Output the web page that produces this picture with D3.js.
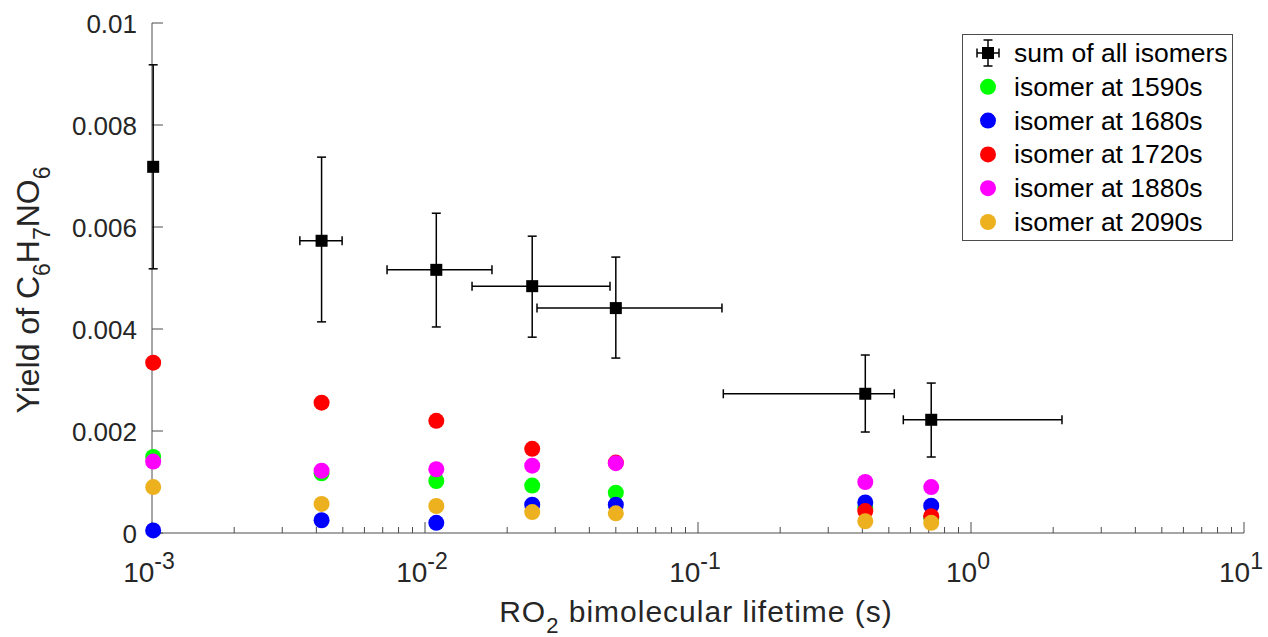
<!DOCTYPE html>
<html>
  <head>
    <script type="text/javascript" src="https://cdn.jsdelivr.net/npm/d3@7"></script>
    <style type="text/css">

html, body {
  margin: 0;
  background: #fff;
}

svg {
  display: block;
  font-family: "Liberation Sans", Arial, sans-serif;
}

    </style>
  </head>
  <body>
    <div id="chart"></div>
    <script type="text/javascript">

// lifetimes (s) of the 7 measurement points
var lifetime = [0.00101, 0.00418, 0.011, 0.0247, 0.05, 0.41, 0.715];
var lifetimeLo = [0.00101, 0.00348, 0.00726, 0.01487, 0.02572, 0.1238, 0.565];
var lifetimeHi = [0.00101, 0.00497, 0.01759, 0.04761, 0.1224, 0.5236, 2.154];

// sum of all isomers + error bars
var sumYield = [0.00718, 0.00573, 0.00516, 0.00484, 0.00441, 0.00273, 0.00222];
var sumLo = [0.00518, 0.00414, 0.00404, 0.00384, 0.00343, 0.00198, 0.00149];
var sumHi = [0.00918, 0.00737, 0.00627, 0.00582, 0.00541, 0.00349, 0.00294];

// single isomers
var iso1590 = [0.00149, 0.00117, 0.00102, 0.00093, 0.00079, 0.00050, 0.00030];
var iso1680 = [0.00005, 0.00025, 0.00020, 0.000555, 0.000555, 0.00060, 0.000535];
var iso1720 = [0.00334, 0.002555, 0.00220, 0.00165, 0.00138, 0.00043, 0.00033];
var iso1880 = [0.00140, 0.00122, 0.00125, 0.00132, 0.00137, 0.00100, 0.00090];
var iso2090 = [0.00090, 0.00057, 0.00053, 0.00041, 0.000385, 0.00023, 0.00020];

var isoNames = ["isomer at 1590s", "isomer at 1680s", "isomer at 1720s", "isomer at 1880s", "isomer at 2090s"];
var isoColors = ["#00ff00", "#0000ff", "#ff0000", "#ff00ff", "#edb120"];
var isoSeries = [iso1590, iso1680, iso1720, iso1880, iso2090];

var yTicks = [0, 0.002, 0.004, 0.006, 0.008, 0.01];
var yTickLabels = ["0", "0.002", "0.004", "0.006", "0.008", "0.01"];
var xTicks = [0.001, 0.01, 0.1, 1, 10];
var xTickExp = ["-3", "-2", "-1", "0", "1"];

var width = 1268, height = 637;
var margin = {left: 152, right: 24, top: 23, bottom: 104};
var axisColor = "#4d4d4d", textColor = "#262626";

var svg = d3.select("#chart").append("svg")
    .attr("width", width)
    .attr("height", height);

var x = d3.scaleLog()
    .domain([0.001, 10])
    .range([margin.left, width - margin.right]);

var y = d3.scaleLinear()
    .domain([0, 0.01])
    .range([height - margin.bottom, margin.top]);

var y0 = y(0);

// axes: only left and bottom, ticks pointing inwards
var axes = svg.append("g");

axes.append("line")
    .attr("x1", x(0.001)).attr("x2", x(10))
    .attr("y1", y0).attr("y2", y0)
    .attr("stroke", axisColor);

axes.append("line")
    .attr("x1", x(0.001)).attr("x2", x(0.001))
    .attr("y1", y0).attr("y2", y(0.01))
    .attr("stroke", axisColor);

// minor ticks 2..9 in every decade
var minor = [];
xTicks.slice(0, -1).forEach(function(d) {
  for (var k = 2; k < 10; k++) minor.push(d * k);
});

axes.selectAll(".minor")
    .data(minor)
  .enter().append("line")
    .attr("class", "minor")
    .attr("x1", x).attr("x2", x)
    .attr("y1", y0).attr("y2", y0 - 6)
    .attr("stroke", axisColor);

axes.selectAll(".xmajor")
    .data(xTicks)
  .enter().append("line")
    .attr("class", "xmajor")
    .attr("x1", x).attr("x2", x)
    .attr("y1", y0).attr("y2", y0 - 11)
    .attr("stroke", axisColor);

axes.selectAll(".ymajor")
    .data(yTicks)
  .enter().append("line")
    .attr("class", "ymajor")
    .attr("x1", x(0.001)).attr("x2", x(0.001) + 11)
    .attr("y1", y).attr("y2", y)
    .attr("stroke", axisColor);

// tick labels
axes.selectAll(".ylab")
    .data(yTicks)
  .enter().append("text")
    .attr("class", "ylab")
    .attr("x", x(0.001) - 15)
    .attr("y", function(d) { return y(d) + 10; })
    .attr("text-anchor", "end")
    .attr("font-size", 26)
    .attr("fill", textColor)
    .text(function(d, i) { return yTickLabels[i]; });

var xl = axes.selectAll(".xlab")
    .data(xTicks)
  .enter().append("text")
    .attr("class", "xlab")
    .attr("x", function(d) { return x(d) - 3; })
    .attr("y", y0 + 49)
    .attr("text-anchor", "middle")
    .attr("font-size", 28)
    .attr("fill", textColor);
xl.append("tspan").text("10");
xl.append("tspan")
    .attr("dy", -13)
    .attr("font-size", 23)
    .text(function(d, i) { return xTickExp[i]; });

// axis titles
var xt = svg.append("text")
    .attr("x", 696)
    .attr("y", 622)
    .attr("text-anchor", "middle")
    .attr("font-size", 30)
    .attr("letter-spacing", 1)
    .attr("fill", textColor);
xt.append("tspan").text("RO");
xt.append("tspan").attr("dy", 11).attr("font-size", 22).text("2");
xt.append("tspan").attr("dy", -11).text(" bimolecular lifetime (s)");

var yt = svg.append("text")
    .attr("transform", "translate(39,290) rotate(-90)")
    .attr("text-anchor", "middle")
    .attr("font-size", 32)
    .attr("fill", textColor);
[["Yield of C", 0], ["6", 1], ["H", 0], ["7", 1], ["NO", 0], ["6", 1]].forEach(function(p, i, a) {
  var prev = i > 0 ? a[i - 1][1] : 0;
  yt.append("tspan")
      .attr("dy", (p[1] - prev) * 11)
      .attr("font-size", p[1] ? 23 : 32)
      .text(p[0]);
});

// sum of all isomers, with error bars both ways
var cap = 4.5;
var sumG = svg.append("g")
    .attr("stroke", "#000")
    .attr("stroke-width", 1.5);

lifetime.forEach(function(t, i) {
  var cx = x(t), cy = y(sumYield[i]);
  var g = sumG.append("g");
  // vertical
  g.append("line").attr("x1", cx).attr("x2", cx).attr("y1", y(sumLo[i])).attr("y2", y(sumHi[i]));
  g.append("line").attr("x1", cx - cap).attr("x2", cx + cap).attr("y1", y(sumLo[i])).attr("y2", y(sumLo[i]));
  g.append("line").attr("x1", cx - cap).attr("x2", cx + cap).attr("y1", y(sumHi[i])).attr("y2", y(sumHi[i]));
  // horizontal
  var xa = x(lifetimeLo[i]), xb = x(lifetimeHi[i]);
  if (xb - xa > 1) {
    g.append("line").attr("x1", xa).attr("x2", xb).attr("y1", cy).attr("y2", cy);
    g.append("line").attr("x1", xa).attr("x2", xa).attr("y1", cy - cap).attr("y2", cy + cap);
    g.append("line").attr("x1", xb).attr("x2", xb).attr("y1", cy - cap).attr("y2", cy + cap);
  }
  g.append("rect")
      .attr("x", cx - 6).attr("y", cy - 6)
      .attr("width", 12).attr("height", 12)
      .attr("fill", "#000")
      .attr("stroke", "none");
});

// isomer dots
isoSeries.forEach(function(vals, k) {
  svg.append("g").selectAll("circle")
      .data(vals)
    .enter().append("circle")
      .attr("cx", function(d, i) { return x(lifetime[i]); })
      .attr("cy", y)
      .attr("r", 8)
      .attr("fill", isoColors[k]);
});

// legend
var legend = svg.append("g");
legend.append("rect")
    .attr("x", 962.5).attr("y", 34.5)
    .attr("width", 270).attr("height", 206)
    .attr("fill", "#fff")
    .attr("stroke", axisColor);

var lx = 988, ly0 = 53, dy = 33.8;
var lg = legend.append("g").attr("stroke", "#000").attr("stroke-width", 1.5);
lg.append("line").attr("x1", lx - 11).attr("x2", lx + 11).attr("y1", ly0).attr("y2", ly0);
lg.append("line").attr("x1", lx).attr("x2", lx).attr("y1", ly0 - 13).attr("y2", ly0 + 13);
lg.append("line").attr("x1", lx - 11).attr("x2", lx - 11).attr("y1", ly0 - cap).attr("y2", ly0 + cap);
lg.append("line").attr("x1", lx + 11).attr("x2", lx + 11).attr("y1", ly0 - cap).attr("y2", ly0 + cap);
lg.append("line").attr("x1", lx - cap).attr("x2", lx + cap).attr("y1", ly0 - 13).attr("y2", ly0 - 13);
lg.append("line").attr("x1", lx - cap).attr("x2", lx + cap).attr("y1", ly0 + 13).attr("y2", ly0 + 13);
lg.append("rect").attr("x", lx - 6).attr("y", ly0 - 6).attr("width", 12).attr("height", 12)
    .attr("fill", "#000").attr("stroke", "none");

var legendNames = ["sum of all isomers"].concat(isoNames);
legend.selectAll(".lt")
    .data(legendNames)
  .enter().append("text")
    .attr("class", "lt")
    .attr("x", 1014)
    .attr("y", function(d, i) { return ly0 + i * dy + 9; })
    .attr("font-size", 26.5)
    .attr("fill", "#000")
    .text(function(d) { return d; });

legend.selectAll(".lc")
    .data(isoColors)
  .enter().append("circle")
    .attr("class", "lc")
    .attr("cx", lx)
    .attr("cy", function(d, i) { return ly0 + (i + 1) * dy; })
    .attr("r", 8)
    .attr("fill", function(d) { return d; });

    </script>
  </body>
</html>
